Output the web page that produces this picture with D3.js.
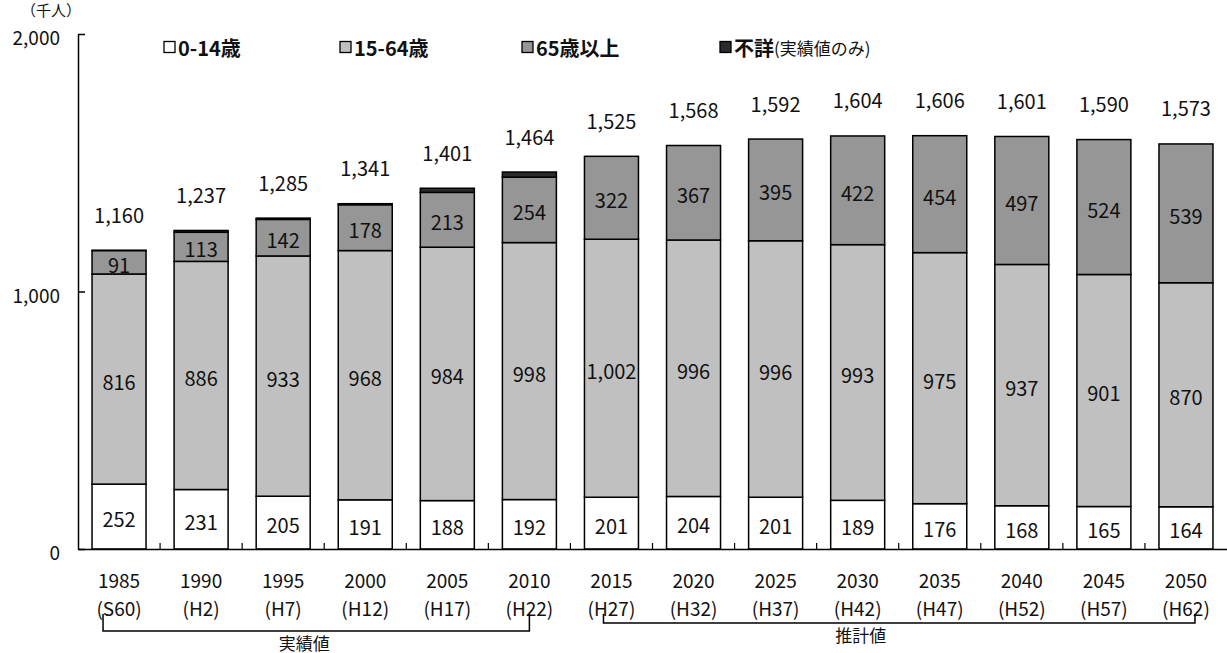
<!DOCTYPE html>
<html>
<head>
<meta charset="utf-8">
<script src="https://cdn.jsdelivr.net/npm/d3@7"></script>
<style>
  body { margin: 0; background: #fff; }
  svg { display: block; font-family: "Noto Sans CJK JP", "Noto Sans", sans-serif; }
</style>
</head>
<body>
<svg id="chart" width="1227" height="653"></svg>
<script>
// Population by age group (thousand people), census results and projections
const years = ["1985", "1990", "1995", "2000", "2005", "2010", "2015", "2020", "2025", "2030", "2035", "2040", "2045", "2050"];
const eras = ["(S60)", "(H2)", "(H7)", "(H12)", "(H17)", "(H22)", "(H27)", "(H32)", "(H37)", "(H42)", "(H47)", "(H52)", "(H57)", "(H62)"];
const age0to14 = [252, 231, 205, 191, 188, 192, 201, 204, 201, 189, 176, 168, 165, 164];
const age15to64 = [816, 886, 933, 968, 984, 998, 1002, 996, 996, 993, 975, 937, 901, 870];
const age65plus = [91, 113, 142, 178, 213, 254, 322, 367, 395, 422, 454, 497, 524, 539];
const ageUnknown = [1, 7, 5, 4, 16, 20, 0, 0, 0, 0, 0, 0, 0, 0];
const totals = [1160, 1237, 1285, 1341, 1401, 1464, 1525, 1568, 1592, 1604, 1606, 1601, 1590, 1573];
const yTicks = [0, 1000, 2000];
const seriesKeys = ["a0", "a15", "a65", "unk"];
const seriesNames = ["0-14歳", "15-64歳", "65歳以上", "不詳"];
const legendNote = "(実績値のみ)";
const actualLabel = "実績値";
const projectedLabel = "推計値";
const unitLabel = "（千人）";

const colors = { a0: "#ffffff", a15: "#c0c0c0", a65: "#969696", unk: "#2b2b2b" };

const rows = years.map((yr, i) => ({
  year: yr, a0: age0to14[i], a15: age15to64[i], a65: age65plus[i], unk: ageUnknown[i], total: totals[i]
}));

const svg = d3.select("#chart");
const left = 78, right = 1227, baseY = 549, topY = 34;
const numSize = 20;

const x = d3.scaleBand().domain(years).range([left, right]).paddingInner(0.342).paddingOuter(0.171);
const y = d3.scaleLinear().domain([0, 2000]).range([baseY, topY]);
const fmt = d3.format(",");

const stacked = d3.stack().keys(seriesKeys)(rows);

// Stacked bars
const layers = svg.append("g").selectAll("g").data(stacked).join("g")
  .attr("fill", d => colors[d.key]);
layers.selectAll("rect").data(d => d.filter(s => s[1] - s[0] > 0)).join("rect")
  .attr("x", d => x(d.data.year))
  .attr("width", x.bandwidth())
  .attr("y", d => y(d[1]))
  .attr("height", d => y(d[0]) - y(d[1]))
  .attr("stroke", "#000")
  .attr("stroke-width", 1.5);

// Segment value labels
const labelLayers = svg.append("g").attr("font-size", numSize).attr("fill", "#111").attr("text-anchor", "middle");
stacked.filter(s => s.key !== "unk").forEach(s => {
  labelLayers.selectAll(null).data(s).join("text")
    .attr("x", d => x(d.data.year) + x.bandwidth() / 2)
    .attr("y", d => (y(d[0]) + y(d[1])) / 2 + 2)
    .attr("dominant-baseline", "central")
    .text(d => fmt(d[1] - d[0]));
});

// Totals above bars
svg.append("g").attr("font-size", numSize).attr("fill", "#111").attr("text-anchor", "middle")
  .selectAll("text").data(rows).join("text")
  .attr("x", d => x(d.year) + x.bandwidth() / 2)
  .attr("y", d => y(d.total) - 36)
  .attr("dominant-baseline", "central")
  .text(d => fmt(d.total));

// Y axis
const yAxis = d3.axisLeft(y).tickValues(yTicks).tickFormat(fmt).tickSize(-7).tickSizeOuter(0).tickPadding(18);
const gy = svg.append("g").attr("transform", `translate(${left},0)`).call(yAxis);
gy.select(".domain").attr("stroke", "#000").attr("stroke-width", 1.5);
gy.selectAll(".tick line").attr("stroke", "#000").attr("stroke-width", 1.5);
gy.selectAll(".tick text").attr("font-size", 19).attr("fill", "#111").attr("dy", null)
  .attr("y", 2).attr("dominant-baseline", "central")
  .attr("font-family", "'Noto Sans CJK JP', sans-serif");

svg.append("text").attr("x", 51).attr("y", 9).attr("text-anchor", "middle")
  .attr("dominant-baseline", "central").attr("font-size", 15).attr("fill", "#111").text(unitLabel);

// X axis with boundary ticks between bars
const xAxis = d3.axisBottom(x).tickSize(0).tickSizeOuter(0).tickFormat("");
const gx = svg.append("g").attr("transform", `translate(0,${baseY})`).call(xAxis);
gx.select(".domain").attr("stroke", "#000").attr("stroke-width", 1.5);
const gap = x.step() * x.paddingInner() / 2;
gx.selectAll("line.sep").data(years.slice(1)).join("line").attr("class", "sep")
  .attr("x1", d => x(d) - gap).attr("x2", d => x(d) - gap)
  .attr("y1", 0).attr("y2", -6).attr("stroke", "#000").attr("stroke-width", 1.2);

const xl = svg.append("g").attr("font-size", 19).attr("fill", "#111").attr("text-anchor", "middle");
xl.selectAll("text.yr").data(years).join("text").attr("class", "yr")
  .attr("x", d => x(d) + x.bandwidth() / 2).attr("y", 579.5)
  .attr("dominant-baseline", "central").text(d => d);
xl.selectAll("text.era").data(years).join("text").attr("class", "era")
  .attr("x", d => x(d) + x.bandwidth() / 2).attr("y", 607)
  .attr("dominant-baseline", "central").text((d, i) => eras[i]);

// Brackets for actual and projected periods
const cx = yr => x(yr) + x.bandwidth() / 2;
const bracket = d3.path();
bracket.moveTo(cx("1985") - 16, 614); bracket.lineTo(cx("1985") - 16, 631);
bracket.lineTo(cx("2010"), 631); bracket.lineTo(cx("2010"), 614);
bracket.moveTo(cx("2015") - 8, 614); bracket.lineTo(cx("2015") - 8, 623);
bracket.lineTo(cx("2050") + 9, 623); bracket.lineTo(cx("2050") + 9, 614);
svg.append("path").attr("d", bracket.toString()).attr("fill", "none")
  .attr("stroke", "#000").attr("stroke-width", 1.5);

svg.append("text").attr("x", (cx("1995") + cx("2000")) / 2 - 20).attr("y", 642)
  .attr("text-anchor", "middle").attr("dominant-baseline", "central")
  .attr("font-size", 17).attr("fill", "#111").text(actualLabel);
svg.append("text").attr("x", cx("2030") + 3).attr("y", 634)
  .attr("text-anchor", "middle").attr("dominant-baseline", "central")
  .attr("font-size", 17).attr("fill", "#111").text(projectedLabel);

// Legend
const legendX = [164, 340, 522, 720];
const legend = svg.append("g");
seriesKeys.forEach((k, i) => {
  const g = legend.append("g").attr("transform", `translate(${legendX[i]},47)`);
  g.append("rect").attr("x", 0).attr("y", -5.5).attr("width", 11).attr("height", 11)
    .attr("fill", colors[k]).attr("stroke", "#000").attr("stroke-width", 1.3);
  const t = g.append("text").attr("x", 14).attr("y", 0).attr("dominant-baseline", "central")
    .attr("font-size", 20).attr("fill", "#111");
  t.append("tspan").attr("font-weight", "bold").text(seriesNames[i]);
  if (k === "unk") t.append("tspan").attr("font-weight", "normal").attr("font-size", 17).text(legendNote);
});
</script>
</body>
</html>
